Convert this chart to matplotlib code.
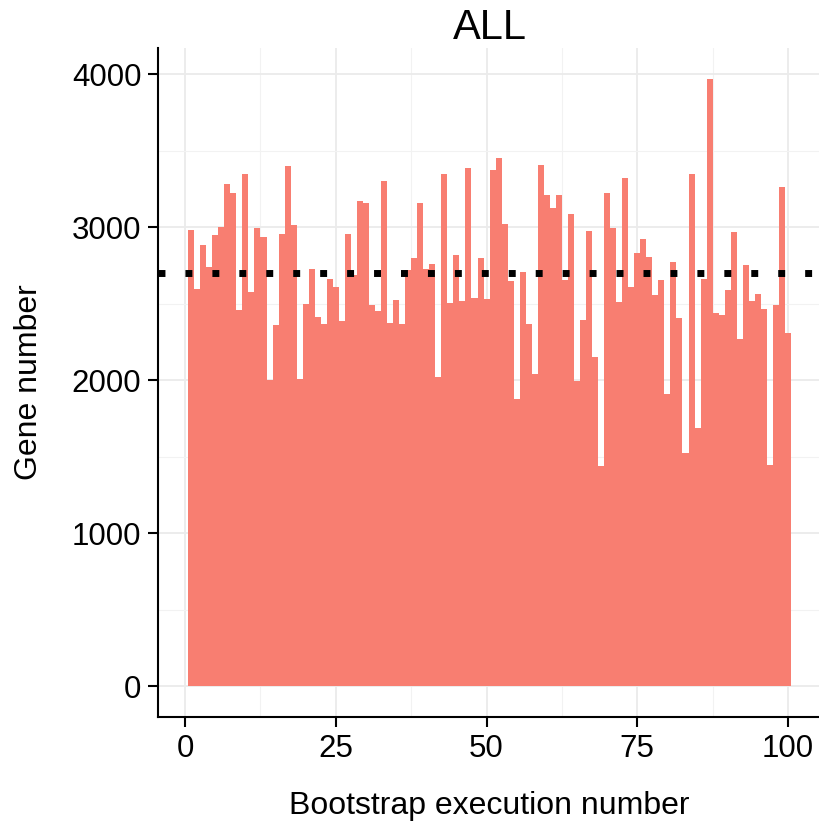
import numpy as np
import matplotlib
matplotlib.use('Agg')
import matplotlib.pyplot as plt
from matplotlib.ticker import MultipleLocator

plt.rcParams['font.family'] = ['Liberation Sans', 'DejaVu Sans']

# Gene counts for each bootstrap run (1..100)
run_number = np.arange(1, 101)
gene_number = [
    2980, 2595, 2880, 2740, 2947, 3000, 3280, 3222, 2459, 3350,
    2573, 2996, 2936, 2000, 2360, 2958, 3400, 3011, 2006, 2500,
    2725, 2413, 2370, 2660, 2606, 2386, 2954, 2690, 3172, 3156,
    2490, 2452, 3304, 2377, 2525, 2364, 2720, 2800, 3160, 2727,
    2756, 2019, 3348, 2503, 2815, 2518, 3383, 2536, 2800, 2529,
    3376, 3449, 3018, 2646, 1880, 2705, 2369, 2039, 3409, 3211,
    3123, 3211, 2657, 3086, 1995, 2391, 2976, 2149, 1440, 3222,
    2996, 2512, 3321, 2606, 2832, 2925, 2805, 2559, 2653, 1912,
    2775, 2406, 1523, 3344, 1687, 2664, 3967, 2439, 2428, 2587,
    2969, 2271, 2755, 2518, 2566, 2467, 1443, 2489, 3263, 2310,
]
mean_line = 2700

fig = plt.figure(figsize=(8.2, 8.22), dpi=100)
ax = fig.add_axes([0.1927, 0.1277, 0.8087, 0.8139])

ax.bar(run_number, gene_number, width=1.0, color='#F87E71', zorder=2)
# dotted reference line across the whole panel
ax.axhline(mean_line, color='black', lw=5, dashes=(1, 2.88),
           dash_capstyle='butt', zorder=3)

ax.set_xlim(-4.5, 105.5)
ax.set_ylim(-200, 4170)
ax.xaxis.set_major_locator(MultipleLocator(25))
ax.xaxis.set_minor_locator(MultipleLocator(12.5))
ax.yaxis.set_major_locator(MultipleLocator(1000))
ax.yaxis.set_minor_locator(MultipleLocator(500))

ax.grid(which='major', color='#EBEBEB', lw=1.3, zorder=0)
ax.grid(which='minor', color='#F2F2F2', lw=0.8, zorder=0)
ax.set_axisbelow(True)

for side in ['top', 'right']:
    ax.spines[side].set_visible(False)
for side in ['left', 'bottom']:
    ax.spines[side].set_linewidth(1.5)
    ax.spines[side].set_color('black')

ax.tick_params(which='major', length=7, width=1.5, color='black',
               labelsize=22.5, pad=5)
ax.tick_params(which='minor', length=0)

ax.set_title('ALL', fontsize=30, pad=5)
ax.set_xlabel('Bootstrap execution number', fontsize=23, labelpad=20)
ax.set_ylabel('Gene number', fontsize=23, labelpad=20)

plt.savefig('out.png', dpi=100)
